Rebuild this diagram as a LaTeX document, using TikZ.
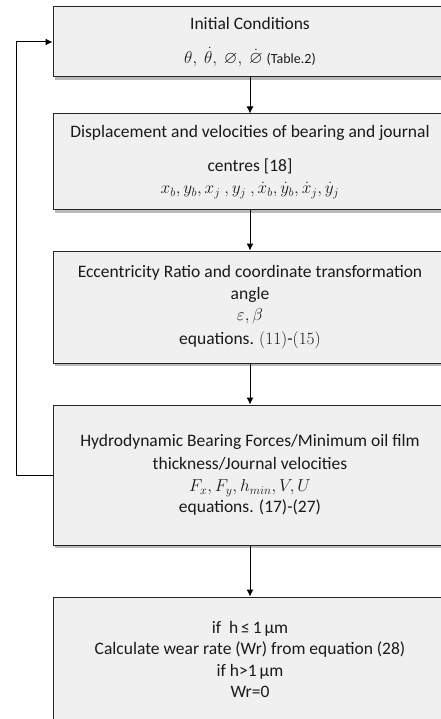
\documentclass[tikz,border=0pt]{standalone}
\usepackage{amsmath,amssymb}
\usepackage{fontspec}
\setmainfont{Carlito}
\usetikzlibrary{positioning,arrows.meta,shadows}
\tikzset{
  stepbox/.style={rectangle, draw=black!85, line width=1pt, fill=black!6, minimum width=394pt,
                  inner sep=2pt, align=center, text=black!90, font=\fontsize{17.5}{21.5}\selectfont,
                  drop shadow={shadow xshift=2pt, shadow yshift=-3pt, fill=black!55}}, % shadow under the box
  fwd/.style={-{Latex[length=7pt,width=7pt]}, line width=1pt},
}

\begin{document}
\begin{tikzpicture}
  \useasboundingbox (0,0) rectangle (441pt,-719pt);
  \clip (0,0) rectangle (441pt,-719pt);

  \node[stepbox, minimum height=70pt] (node1) at (250pt,-42pt)
    {Initial Conditions\\[12pt] $\theta,\ \dot{\theta},\ \varnothing,\ \dot{\varnothing}$ {\fontsize{14}{17}\selectfont(Table.2)}};
  \node[stepbox, minimum height=96pt] (node2) [below=36pt of node1]
    {Displacement and velocities of bearing and journal\\[12pt] centres [18]\\[1pt]
     $x_b, y_b, x_j\ , y_j\ , \dot{x}_b, \dot{y}_b, \dot{x}_j, \dot{y}_j$};
  \node[stepbox, minimum height=112pt] (node3) [below=40pt of node2]
    {Eccentricity Ratio and coordinate transformation\\ angle\\ $\varepsilon, \beta$\\[2pt] equations. $(11)$-$(15)$};
  \node[stepbox, minimum height=140pt] (node4) [below=41pt of node3]
    {Hydrodynamic Bearing Forces/Minimum oil film\\[2pt] thickness/Journal velocities\\
     $F_x, F_y, h_{min}, V, U$\\ equations. (17)-(27)};
  \node[stepbox, minimum height=125pt, drop shadow={opacity=0}] (node5) [below=51pt of node4]
    {if~~h\,≤\,1\,µm\\ Calculate wear rate (Wr) from equation (28)\\ if h>1\,µm\\ Wr=0};

  \draw[fwd] (node1.south) -- (node2.north);
  \draw[fwd] (node2.south) -- (node3.north);
  \draw[fwd] (node3.south) -- (node4.north);
  \draw[fwd] (node4.south) -- (node5.north);
  % feedback loop back to the start
  \draw[fwd] (node4.west) -- ++(-36pt,0) |- (node1.west);
\end{tikzpicture}
\end{document}
